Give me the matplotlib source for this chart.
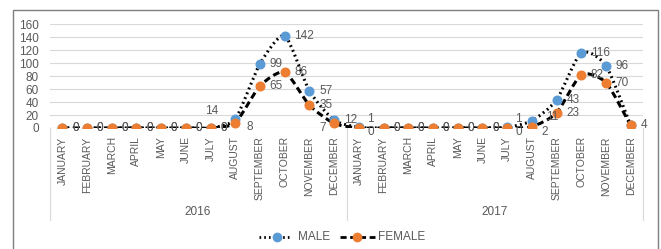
import matplotlib.pyplot as plt
import numpy as np
from matplotlib.path import Path
from matplotlib.patches import PathPatch, Rectangle
from matplotlib.lines import Line2D

months = ["JANUARY", "FEBRUARY", "MARCH", "APRIL", "MAY", "JUNE", "JULY",
          "AUGUST", "SEPTEMBER", "OCTOBER", "NOVEMBER", "DECEMBER"]
years = ["2016", "2017"]
male = [0, 0, 0, 0, 0, 0, 0, 14, 99, 142, 57, 12,
        1, 0, 0, 0, 0, 0, 1, 11, 43, 116, 96, 4]
female = [0, 0, 0, 0, 0, 0, 0, 8, 65, 86, 35, 7,
          0, 0, 0, 0, 0, 0, 0, 2, 23, 82, 70, 4]

BLUE = "#5B9BD5"
ORANGE = "#ED7D31"
GREY = "#595959"
FONT = "Liberation Sans"
plt.rcParams['font.family'] = [FONT, 'DejaVu Sans']

W, H = 661, 249
fig = plt.figure(figsize=(W / 100, H / 100), dpi=100)
ax = fig.add_axes([50 / W, (H - 128) / H, (643 - 50) / W, (128 - 24) / H])

x = np.arange(len(male))


def smooth_path(xs, ys, t=0.11):
    # cubic bezier through the points, like Excel's smoothed line
    pts = np.column_stack([xs, ys]).astype(float)
    verts = [pts[0]]
    codes = [Path.MOVETO]
    n = len(pts)
    for i in range(n - 1):
        p0 = pts[max(i - 1, 0)]
        p1 = pts[i]
        p2 = pts[i + 1]
        p3 = pts[min(i + 2, n - 1)]
        c1 = p1 + (p2 - p0) * t
        c2 = p2 - (p3 - p1) * t
        verts += [c1, c2, p2]
        codes += [Path.CURVE4] * 3
    return Path(verts, codes)


ax.add_patch(PathPatch(smooth_path(x, male), fill=False, ec="black", lw=2.2,
                       ls=(0, (0.6, 1.1)), zorder=3))
ax.add_patch(PathPatch(smooth_path(x, female), fill=False, ec="black", lw=2.2,
                       ls=(0, (2.2, 1.3)), zorder=3))
ax.plot(x, male, ls="none", marker="o", ms=6.2, color=BLUE, zorder=4)
ax.plot(x, female, ls="none", marker="o", ms=6.2, color=ORANGE, zorder=5)

# data labels
for i, v in enumerate(male):
    dx, dy = 7, 0
    if i == 7:
        dx, dy = -22, 6
    if i in (12, 18):
        dx, dy = 6, 6
    if i == 19:
        dx, dy = 10, 3
    ax.annotate(str(v), (i, v), xytext=(dx, dy), textcoords="offset points",
                fontsize=8.5, color=GREY, va="center", ha="left", zorder=6)
for i, v in enumerate(female):
    dx, dy = 7, 0
    if i == 7:
        dx, dy = 8, -3
    if i == 11:
        dx, dy = -11, -3
    if i in (12, 18):
        dx, dy = 6, -3
    if i == 19:
        dx, dy = 7, -4
    if i == 23:
        continue
    ax.annotate(str(v), (i, v), xytext=(dx, dy), textcoords="offset points",
                fontsize=8.5, color=GREY, va="center", ha="left", zorder=6)

ax.set_xlim(-0.5, len(male) - 0.5)
ax.set_ylim(0, 160)
ax.set_yticks(range(0, 161, 20))
ax.yaxis.grid(True, color="#D9D9D9", lw=0.8)
ax.set_axisbelow(True)
for s in ax.spines.values():
    s.set_visible(False)
ax.tick_params(axis="y", length=0, labelsize=8.5, labelcolor=GREY, pad=8)
ax.set_xticks(x)
ax.set_xticklabels(months * 2, rotation=90, fontsize=7.5, color=GREY, va="top")
ax.tick_params(axis="x", length=0, pad=6)
ax.axhline(0, color="#D9D9D9", lw=0.8, zorder=1)


# year group axis
def fx(px):
    return px / W


def fy(py):
    return 1 - py / H


for px in (50, 347, 643):
    fig.add_artist(Line2D([fx(px), fx(px)], [fy(128), fy(220)], color="#D9D9D9", lw=0.8))
fig.text(fx(198), fy(212), years[0], fontsize=8.5, color=GREY, ha="center", va="center")
fig.text(fx(495), fy(212), years[1], fontsize=8.5, color=GREY, ha="center", va="center")

# outer border
fig.add_artist(Rectangle((fx(13), fy(258)), fx(658 - 13), fy(10) - fy(258),
                         fill=False, ec="#7F7F7F", lw=1.0))

# legend
fig.add_artist(Line2D([fx(259), fx(291)], [fy(237), fy(237)], color="black", lw=2,
                      ls=(0, (0.6, 1.1))))
fig.add_artist(Line2D([fx(277)], [fy(237)], marker="o", ms=6, color=BLUE))
fig.text(fx(298), fy(237), "MALE", fontsize=8.5, color=GREY, va="center")
fig.add_artist(Line2D([fx(340), fx(375)], [fy(237), fy(237)], color="black", lw=2,
                      ls=(0, (2.2, 1.3))))
fig.add_artist(Line2D([fx(357)], [fy(237)], marker="o", ms=6, color=ORANGE))
fig.text(fx(378), fy(237), "FEMALE", fontsize=8.5, color=GREY, va="center")

fig.savefig("out.png", dpi=100)
